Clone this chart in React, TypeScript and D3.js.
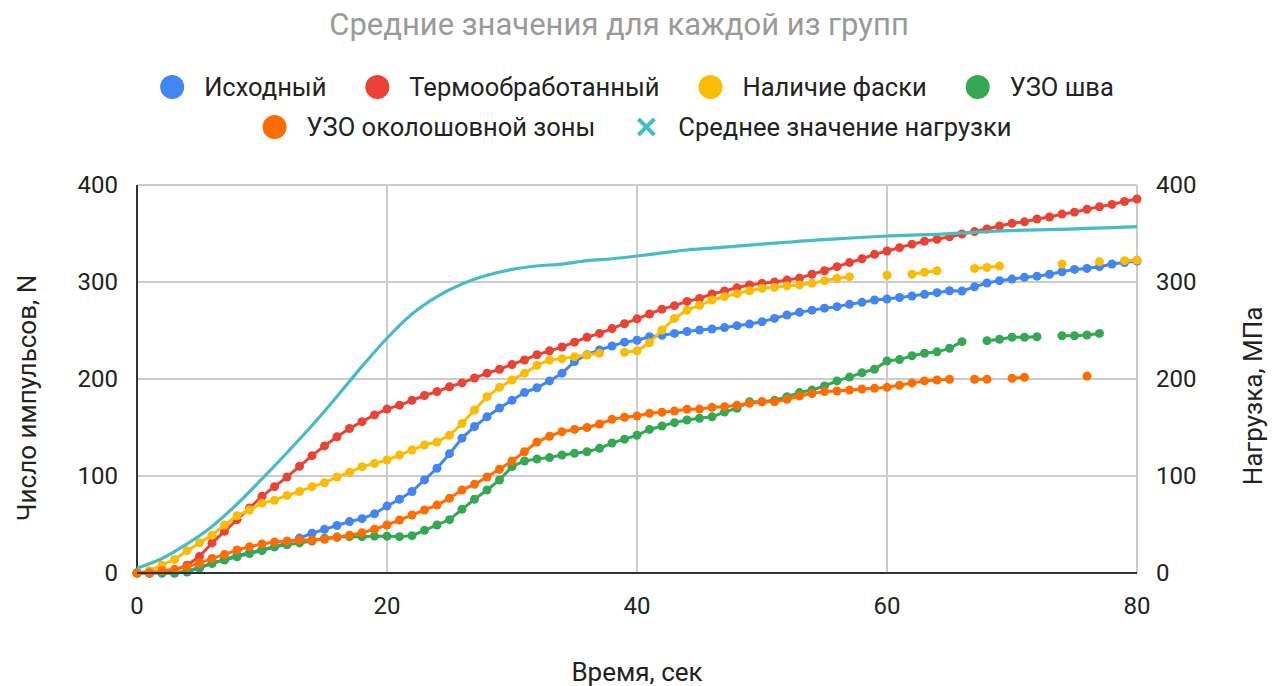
import React, { useEffect, useRef } from "react";
import * as d3 from "d3";

// Sampling grid, seconds
const seconds: number[] = [
  0, 1, 2, 3, 4, 5, 6, 7, 8, 9, 10, 11, 12, 13, 14, 15, 16, 17, 18, 19, 20,
  21, 22, 23, 24, 25, 26, 27, 28, 29, 30, 31, 32, 33, 34, 35, 36, 37, 38, 39, 40,
  41, 42, 43, 44, 45, 46, 47, 48, 49, 50, 51, 52, 53, 54, 55, 56, 57, 58, 59, 60,
  61, 62, 63, 64, 65, 66, 67, 68, 69, 70, 71, 72, 73, 74, 75, 76, 77, 78, 79, 80,
];

// Mean pulse counts N per group (null = no reading)
const ishodny: (number | null)[] = [
  0, 0, 0, 0, 1, 5, 10, 14, 18, 21, 24, 27, 31, 36, 41, 45, 49, 53, 56, 61, 69,
  76, 84, 96, 108, 123, 139, 151, 161, 170, 178, 186, 191, 198, 206, 218, 225, 230, 234, 238, 240,
  243.6, 245, 247, 249, 250.5, 251.5, 253, 255, 256.7, 259, 262.5, 266, 268.7, 271, 273, 274.6, 277, 279, 281.4, 282.5,
  284, 285.6, 287.3, 289, 291, 290.7, 295, 299, 301.4, 303, 304.8, 306, 308, 310.6, 313, 314, 315.8, 318.6, 320, 321.6,
];

const termo: (number | null)[] = [
  0, 0, 1, 3, 8, 17, 31, 43, 55, 67, 79, 89, 99, 110, 121, 131, 140.5, 149, 156, 163, 169,
  173, 178, 183, 187, 192, 196, 201, 206, 210, 215, 219.6, 225, 229, 233, 238, 243, 247, 252, 257, 262,
  267, 272, 275.6, 280, 283, 287.6, 290.7, 294, 297, 298.6, 300, 302, 304, 308, 311.6, 315.8, 320, 324, 328.5, 332,
  335.4, 339, 342, 344, 346.7, 349.5, 352, 354.6, 357.7, 360.5, 362, 365, 367, 370, 372, 375, 377.6, 380, 383, 385.6,
];

const faska: (number | null)[] = [
  0, 2.4, 8, 14, 23, 31, 39, 49.5, 59, 65, 72, 75, 80, 84, 89, 93, 99, 103.8, 109.6, 113, 116.5,
  121.6, 126.8, 132, 135, 142, 154, 168, 181.8, 191.4, 199, 206, 214, 219.6, 221, 223, 224.7, 226.5, null, 227.5, 229,
  237.4, 250.5, 262.5, 271, 276, 281.4, 285, 288, 291, 293.5, 294.5, 296, 297, 298.6, 301.4, 303.8, 305.5, null, null, 307,
  null, 308, 310, 311.6, null, null, 314, 315, 316.5, null, null, null, null, 318.6, null, null, 321, null, 322, 322.7,
];

const uzoShva: (number | null)[] = [
  0, 0, 0, 0, 2, 6, 10, 13.4, 16.8, 20, 23, 27, 29, 31, 33, 35.7, 37, 37.5, 37.5, 38, 38,
  37.5, 38.5, 44, 49.5, 55, 65.6, 76, 85.6, 95.9, 109.6, 115.5, 117.5, 119, 121.6, 123.4, 125, 128.5, 134, 138, 142,
  148, 151.5, 155, 157.7, 159.5, 161, 166, 169.8, 176.6, 176.6, 178, 181.8, 186, 188.6, 192.8, 198, 202, 206.5, 210, 218.6,
  220, 224, 226.5, 228, 231.6, 238.5, null, 239.5, 241, 243, 243, 243.6, null, 244.6, 244.6, 245.4, 247, null, null, null,
];

const uzoZony: (number | null)[] = [
  0, 0, 2.4, 3.8, 6.5, 10, 15, 19, 23.7, 27, 30, 32, 33, 34, 34, 34.7, 36.8, 39, 41.6, 45, 49.5,
  54.6, 59.8, 65, 70, 77, 85.6, 91.4, 99, 107, 115.5, 125, 135, 141, 145.7, 148, 150, 153.6, 158.4, 160.5, 161.9,
  164.6, 165.7, 167, 168.8, 169, 170.8, 171.5, 173, 175, 176.6, 176.6, 179, 182.5, 185, 187, 187.6, 188.6, 189.7, 190.4, 191.4,
  193.5, 196, 198, 199, 199.7, null, 199.7, 199.7, null, 200.7, 201.7, null, null, null, null, 203, null, null, null, null,
];

// Mean load, MPa (right axis), every 2 s
const loadSeconds: number[] = [
  0, 2, 4, 6, 8, 10, 12, 14, 16, 18, 20, 22, 24, 26, 28, 30, 32, 34, 36, 38, 40,
  42, 44, 46, 48, 50, 52, 54, 56, 58, 60, 62, 64, 66, 68, 70, 72, 74, 76, 78, 80,
];
const loadMPa: number[] = [
  5, 15, 30, 48, 71, 97, 124, 152, 182, 213, 242, 267, 285, 298, 307, 313, 316.5, 318.5, 322, 324, 326.8,
  330, 333, 335, 337, 339, 341, 343, 344.5, 346, 347.4, 348.3, 349.2, 350.5, 352, 353, 353.8, 354.3, 355.2, 356, 357,
];

const seriesNames: string[] = [
  "Исходный",
  "Термообработанный",
  "Наличие фаски",
  "УЗО шва",
  "УЗО околошовной зоны",
  "Среднее значение нагрузки",
];
const seriesColors: string[] = ["#4285F4", "#EA4335", "#FBBC04", "#34A853", "#FF6D01", "#46BDC6"];
const pulseSeries = [ishodny, termo, faska, uzoShva, uzoZony];

const xTicks: number[] = [0, 20, 40, 60, 80];
const yTicks: number[] = [0, 100, 200, 300, 400];

const W = 1278;
const H = 686;
const FONT = "Roboto, 'Noto Sans', Arial, sans-serif";

function measure(text: string, size: number): number {
  const c = document.createElement("canvas").getContext("2d")!;
  c.font = `${size}px Roboto`;
  return c.measureText(text).width;
}

export default function App() {
  const ref = useRef<SVGSVGElement>(null);

  useEffect(() => {
    document.body.style.margin = "0";
    const svg = d3.select(ref.current!);
    svg.selectAll("*").remove();

    const plot = { left: 137, right: 1137, top: 185, bottom: 573 };
    const x = d3.scaleLinear().domain([0, 80]).range([plot.left, plot.right]);
    const yL = d3.scaleLinear().domain([0, 400]).range([plot.bottom, plot.top]);
    const yR = d3.scaleLinear().domain([0, 400]).range([plot.bottom, plot.top]);

    svg.append("rect").attr("width", W).attr("height", H).attr("fill", "#fff");

    // Title
    svg.append("text")
      .attr("x", 619).attr("y", 24)
      .attr("text-anchor", "middle").attr("dominant-baseline", "central")
      .attr("font-family", FONT).attr("font-size", 31).attr("fill", "#9a9a9a")
      .text("Средние значения для каждой из групп");

    // Legend
    const legendSize = 25.5;
    const rows = [[0, 1, 2, 3], [4, 5]];
    const rowY = [87, 127];
    rows.forEach((row, ri) => {
      const widths = row.map((i) => 24 + 20 + measure(seriesNames[i], legendSize));
      const gap = 39;
      const total = d3.sum(widths) + gap * (row.length - 1);
      let cx = 637 - total / 2;
      row.forEach((i, k) => {
        const g = svg.append("g").attr("transform", `translate(${cx},${rowY[ri]})`);
        if (i === 5) {
          const s = 8;
          g.append("path")
            .attr("d", `M${12 - s},${-s}L${12 + s},${s}M${12 - s},${s}L${12 + s},${-s}`)
            .attr("stroke", seriesColors[i]).attr("stroke-width", 4);
        } else {
          g.append("circle").attr("cx", 12).attr("cy", 0).attr("r", 12).attr("fill", seriesColors[i]);
        }
        g.append("text")
          .attr("x", 44).attr("y", 0).attr("dominant-baseline", "central")
          .attr("font-family", FONT).attr("font-size", legendSize).attr("fill", "#222")
          .text(seriesNames[i]);
        cx += widths[k] + gap;
      });
    });

    // Grid
    const grid = svg.append("g");
    yTicks.forEach((t) => {
      if (t === 0) return;
      grid.append("line")
        .attr("x1", plot.left).attr("x2", plot.right)
        .attr("y1", yL(t)).attr("y2", yL(t))
        .attr("stroke", "#cccccc").attr("stroke-width", 2);
    });
    xTicks.forEach((t) => {
      if (t === 0) return;
      grid.append("line")
        .attr("x1", x(t)).attr("x2", x(t))
        .attr("y1", plot.top).attr("y2", plot.bottom)
        .attr("stroke", "#cccccc").attr("stroke-width", 2);
    });

    // Axis lines
    svg.append("line")
      .attr("x1", plot.left).attr("x2", plot.left)
      .attr("y1", plot.top).attr("y2", plot.bottom)
      .attr("stroke", "#333").attr("stroke-width", 2);

    // Tick labels
    const tickSize = 24;
    yTicks.forEach((t) => {
      svg.append("text")
        .attr("x", 118).attr("y", yL(t))
        .attr("text-anchor", "end").attr("dominant-baseline", "central")
        .attr("font-family", FONT).attr("font-size", tickSize).attr("fill", "#222")
        .text(String(t));
      svg.append("text")
        .attr("x", 1156).attr("y", yR(t))
        .attr("text-anchor", "start").attr("dominant-baseline", "central")
        .attr("font-family", FONT).attr("font-size", tickSize).attr("fill", "#222")
        .text(String(t));
    });
    xTicks.forEach((t) => {
      svg.append("text")
        .attr("x", x(t)).attr("y", 606)
        .attr("text-anchor", "middle").attr("dominant-baseline", "central")
        .attr("font-family", FONT).attr("font-size", tickSize).attr("fill", "#222")
        .text(String(t));
    });

    // Axis titles
    const axisTitleSize = 26;
    svg.append("text")
      .attr("x", 637).attr("y", 672)
      .attr("text-anchor", "middle").attr("dominant-baseline", "central")
      .attr("font-family", FONT).attr("font-size", axisTitleSize).attr("fill", "#222")
      .text("Время, сек");
    svg.append("text")
      .attr("transform", `translate(27,398) rotate(-90)`)
      .attr("text-anchor", "middle").attr("dominant-baseline", "central")
      .attr("font-family", FONT).attr("font-size", axisTitleSize).attr("fill", "#222")
      .text("Число импульсов, N");
    svg.append("text")
      .attr("transform", `translate(1253,396) rotate(-90)`)
      .attr("text-anchor", "middle").attr("dominant-baseline", "central")
      .attr("font-family", FONT).attr("font-size", axisTitleSize).attr("fill", "#222")
      .text("Нагрузка, МПа");

    // Pulse series: lines broken at missing readings, with markers
    const line = d3.line<[number, number | null]>()
      .defined((d) => d[1] !== null)
      .x((d) => x(d[0]))
      .y((d) => yL(d[1] as number));

    pulseSeries.forEach((vals, si) => {
      const pts: [number, number | null][] = seconds.map((s, i) => [s, vals[i]]);
      const g = svg.append("g");
      g.append("path")
        .attr("d", line(pts)!)
        .attr("fill", "none")
        .attr("stroke", seriesColors[si])
        .attr("stroke-width", 3)
        .attr("stroke-linejoin", "round");
      g.selectAll("circle")
        .data(pts.filter((d) => d[1] !== null))
        .join("circle")
        .attr("cx", (d) => x(d[0]))
        .attr("cy", (d) => yL(d[1] as number))
        .attr("r", 4.5)
        .attr("fill", seriesColors[si]);
    });

    // Mean load, smooth line on the right axis
    const loadLine = d3.line<number>()
      .x((_, i) => x(loadSeconds[i]))
      .y((d) => yR(d))
      .curve(d3.curveMonotoneX);
    svg.append("path")
      .attr("d", loadLine(loadMPa)!)
      .attr("fill", "none")
      .attr("stroke", seriesColors[5])
      .attr("stroke-width", 3.2);

    // Baseline drawn over the series
    svg.append("line")
      .attr("x1", plot.left).attr("x2", plot.right)
      .attr("y1", plot.bottom).attr("y2", plot.bottom)
      .attr("stroke", "#333").attr("stroke-width", 2);
  }, []);

  return <svg ref={ref} width={W} height={H} style={{ display: "block" }} />;
}
